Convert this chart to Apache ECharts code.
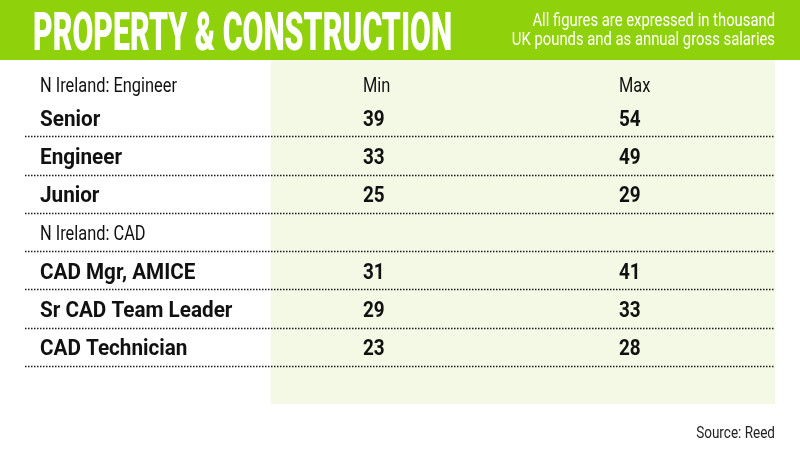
<!DOCTYPE html>
<html>
<head>
<meta charset="utf-8">
<style>
  html, body { margin: 0; padding: 0; background: #ffffff; }
  #chart { width: 800px; height: 450px; }
</style>
<script src="https://cdn.jsdelivr.net/npm/echarts@6/dist/echarts.min.js"></script>
</head>
<body>
<div id="chart"></div>
<script>
// ---------- data ----------
const titleText = 'PROPERTY & CONSTRUCTION';
const noteLines = ['All figures are expressed in thousand', 'UK pounds and as annual gross salaries'];
const sourceText = 'Source: Reed';

const columns = ['Job', 'Min', 'Max'];
const rows = ['N Ireland: Engineer', 'Senior', 'Engineer', 'Junior',
              'N Ireland: CAD', 'CAD Mgr, AMICE', 'Sr CAD Team Leader', 'CAD Technician', ' '];
const groupRows = ['N Ireland: Engineer', 'N Ireland: CAD'];
const minValues = [null, 39, 33, 25, null, 31, 29, 23, null];
const maxValues = [null, 54, 49, 29, null, 41, 33, 28, null];
const headerLabels = ['Min', 'Max'];
const separatorRows = ['Senior', 'Engineer', 'Junior', 'N Ireland: CAD',
                       'CAD Mgr, AMICE', 'Sr CAD Team Leader', 'CAD Technician'];

// ---------- styles / layout ----------
const FONT = 'Roboto, "Liberation Sans", sans-serif';
const GREEN = '#8fd10a';
const PALE = '#f4f9e6';
const INK = '#111111';
const colInset = [21, 92, 96];
const kinds = {
  head:  { size: 21, weight: 'normal', scaleX: 0.78, dy: 8 },
  group: { size: 21, weight: 'normal', scaleX: 0.78, dy: 2.7 },
  label: { size: 22, weight: 'bold',   scaleX: 0.94, dy: 2.8 },
  num:   { size: 22.5, weight: 'bold', scaleX: 0.84, dy: 2.8 }
};

// ---------- build cells ----------
const cells = [];
rows.forEach(function (r, i) {
  if (r.trim() === '') return;
  const isGroup = groupRows.indexOf(r) >= 0;
  cells.push({ col: 0, row: i, text: r, kind: isGroup ? (i === 0 ? 'head' : 'group') : 'label' });
  if (minValues[i] != null) cells.push({ col: 1, row: i, text: String(minValues[i]), kind: 'num' });
  if (maxValues[i] != null) cells.push({ col: 2, row: i, text: String(maxValues[i]), kind: 'num' });
});
headerLabels.forEach(function (h, k) {
  cells.push({ col: k + 1, row: 0, text: h, kind: 'head' });
});

const chart = echarts.init(document.getElementById('chart'), null, { renderer: 'canvas' });

const option = {
  backgroundColor: '#ffffff',
  animation: false,
  grid: { left: 19, right: 25, top: 60, bottom: 46 },
  xAxis: {
    type: 'category', data: columns, boundaryGap: true,
    axisLine: { show: false }, axisTick: { show: false }, axisLabel: { show: false },
    splitLine: { show: false },
    splitArea: { show: true, interval: 0, areaStyle: { color: ['rgba(255,255,255,0)', PALE, PALE] } }
  },
  yAxis: {
    type: 'category', data: rows, inverse: true, boundaryGap: true,
    axisLine: { show: false }, axisTick: { show: false }, axisLabel: { show: false },
    splitLine: { show: false }
  },
  graphic: [
    { type: 'rect', left: 0, top: 0, z: -1, shape: { width: 800, height: 60 }, style: { fill: GREEN } },
    { type: 'text', x: 33, y: 36, scaleX: 0.56, z: 10,
      style: { text: titleText, fill: '#ffffff', font: '900 54px ' + FONT, align: 'left', verticalAlign: 'middle' } },
    { type: 'text', x: 775, y: 21, scaleX: 0.78, z: 10,
      style: { text: noteLines[0], fill: '#ffffff', font: '19px ' + FONT, align: 'right', verticalAlign: 'middle' } },
    { type: 'text', x: 775, y: 40.5, scaleX: 0.78, z: 10,
      style: { text: noteLines[1], fill: '#ffffff', font: '19px ' + FONT, align: 'right', verticalAlign: 'middle' } },
    { type: 'text', x: 775, y: 434, scaleX: 0.82, z: 10,
      style: { text: sourceText, fill: '#222222', font: '16.5px ' + FONT, align: 'right', verticalAlign: 'middle' } }
  ],
  series: [
    {
      type: 'custom', name: 'separators',
      data: separatorRows.map(function (r) { return [0, rows.indexOf(r)]; }),
      renderItem: function (params, api) {
        const c = api.coord([0, api.value(1)]);
        const s = api.size([1, 1]);
        const cs = params.coordSys;
        const y = Math.round(c[1] + s[1] / 2) + 0.5;
        return {
          type: 'line',
          shape: { x1: cs.x + 6, y1: y, x2: cs.x + cs.width, y2: y },
          style: { stroke: '#1a1a1a', lineWidth: 1.5, lineDash: [1.5, 1.5] }
        };
      }
    },
    {
      type: 'custom', name: 'cells',
      data: cells.map(function (d) { return [d.col, d.row]; }),
      renderItem: function (params, api) {
        const d = cells[params.dataIndex];
        const k = kinds[d.kind];
        const c = api.coord([api.value(0), api.value(1)]);
        const s = api.size([1, 1]);
        return {
          type: 'text',
          x: c[0] - s[0] / 2 + colInset[d.col],
          y: c[1] + k.dy,
          scaleX: k.scaleX,
          style: {
            text: d.text, fill: INK,
            font: k.weight + ' ' + k.size + 'px ' + FONT,
            align: 'left', verticalAlign: 'middle'
          }
        };
      }
    }
  ]
};
chart.setOption(option);
</script>
</body>
</html>
